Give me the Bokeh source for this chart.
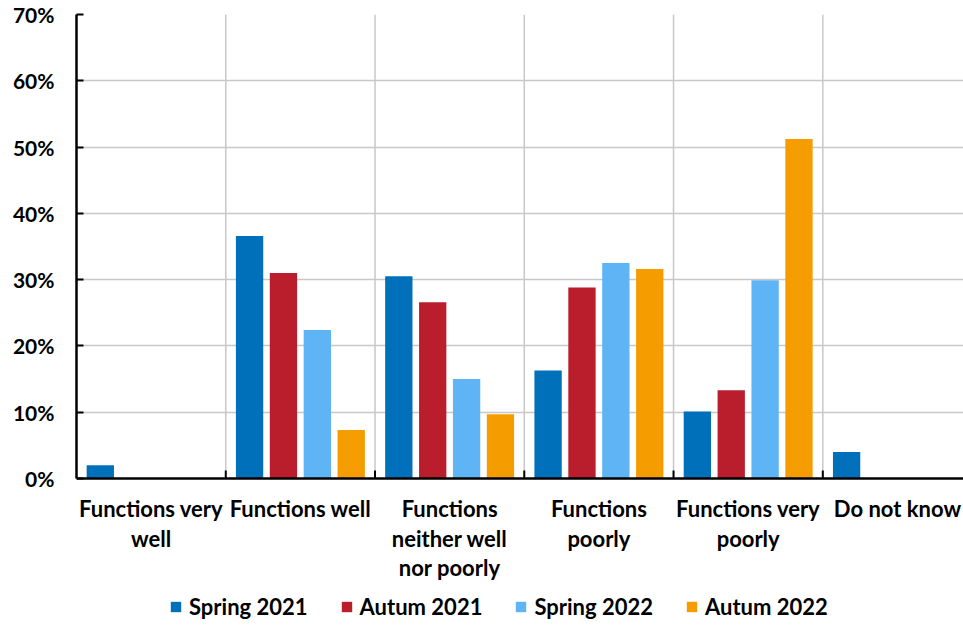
from bokeh.plotting import figure
from bokeh.models import (Range1d, FixedTicker, Legend, LegendItem, Span,
                          PrintfTickFormatter, ColumnDataSource)
from bokeh.core.properties import value
from bokeh.transform import dodge
from bokeh.embed import file_html
from bokeh.resources import INLINE

nan = float("nan")

categories = ["Functions very\nwell", "Functions well", "Functions\nneither well\nnor poorly",
              "Functions\npoorly", "Functions very\npoorly", "Do not know"]
series = ["Spring 2021", "Autum 2021", "Spring 2022", "Autum 2022"]
spring_2021 = [2.0, 36.6, 30.5, 16.3, 10.1, 4.0]
autum_2021 = [nan, 31.0, 26.6, 28.8, 13.3, nan]
spring_2022 = [nan, 22.4, 15.0, 32.5, 29.9, nan]
autum_2022 = [nan, 7.3, 9.7, 31.6, 51.2, nan]
colors = ["#0070BA", "#BA1E2D", "#5EB4F4", "#F59C00"]
y_ticks = [0, 10, 20, 30, 40, 50, 60, 70]

FONT = "Lato"
H = 620
LEFT, TOP = 76, 14
FRAME_W = 887
PLOT_H = 464                      # pixel height of the 0..70 % band
FRAME_H = H - TOP
px_per_unit = PLOT_H / 70.0
y_min = -(FRAME_H - PLOT_H) / px_per_unit
cat_px = 149.26
x_end = FRAME_W / cat_px

p = figure(frame_width=FRAME_W, frame_height=FRAME_H, output_backend="svg",
           toolbar_location=None, x_axis_location=None,
           x_range=Range1d(0, x_end), y_range=Range1d(y_min, 70),
           min_border_left=LEFT, min_border_right=0, min_border_top=TOP,
           min_border_bottom=0)
p.outline_line_color = None
p.background_fill_color = "white"
p.xgrid.visible = False

centers = [i + 0.5 for i in range(len(categories))]
bounds = list(range(1, len(categories)))

# vertical separators between categories (grid look)
p.segment(x0=bounds, y0=[0] * len(bounds), x1=bounds, y1=[70] * len(bounds),
          line_color="#c8c8c8", line_width=1.5)

src = ColumnDataSource(dict(x=centers, s0=spring_2021, s1=autum_2021,
                            s2=spring_2022, s3=autum_2022))
step = 0.227
renderers = []
for j, col in enumerate(["s0", "s1", "s2", "s3"]):
    r = p.vbar(x=dodge("x", (j - 1.5) * step, range=p.x_range), top=col, bottom=0,
               width=0.183, source=src, fill_color=colors[j], line_color=None)
    renderers.append(r)

# x axis line and small inner ticks at category boundaries
p.add_layout(Span(location=0, dimension="width", line_color="black", line_width=2.5))
p.segment(x0=bounds, y0=[0] * len(bounds), x1=bounds,
          y1=[8 / px_per_unit] * len(bounds), line_color="black", line_width=2)

# category labels
p.text(x=centers, y=[-16.5 / px_per_unit] * len(centers), text=categories,
       text_align="center", text_baseline="top", text_font=value(FONT),
       text_font_style="bold", text_font_size="22px", text_line_height=1.10,
       text_color="black")

# y axis
p.yaxis.bounds = (0, 70)
p.yaxis.ticker = FixedTicker(ticks=y_ticks)
p.yaxis.formatter = PrintfTickFormatter(format="%d%%")
p.yaxis.major_label_text_font = FONT
p.yaxis.major_label_text_font_style = "bold"
p.yaxis.major_label_text_font_size = "21px"
p.yaxis.major_label_text_color = "black"
p.yaxis.major_tick_in = 7
p.yaxis.major_tick_out = 0
p.yaxis.major_tick_line_width = 2
p.yaxis.minor_tick_line_color = None
p.yaxis.axis_line_width = 2.5
p.yaxis.axis_line_color = "black"
p.yaxis.major_label_standoff = 22

p.ygrid.ticker = FixedTicker(ticks=y_ticks[1:])
p.ygrid.grid_line_color = "#c8c8c8"
p.ygrid.grid_line_width = 1.5

legend = Legend(items=[LegendItem(label=s, renderers=[r]) for s, r in zip(series, renderers)],
                orientation="horizontal", location=(93, 0),
                glyph_width=13, glyph_height=13, label_standoff=7, spacing=32,
                padding=0, margin=0, border_line_color=None, background_fill_alpha=0,
                label_text_font=FONT, label_text_font_style="bold",
                label_text_font_size="22px", label_text_color="black")
p.add_layout(legend, "center")

open("out.html", "w").write(file_html(p, INLINE))
